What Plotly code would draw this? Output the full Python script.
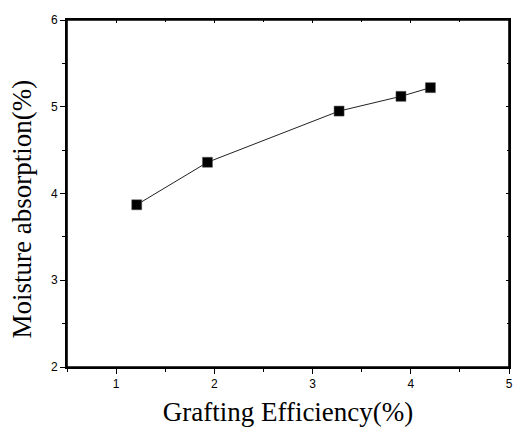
import plotly.graph_objects as go

grafting_efficiency = [1.21, 1.93, 3.27, 3.90, 4.20]
moisture_absorption = [3.87, 4.36, 4.95, 5.12, 5.22]

x_ticks = [1, 2, 3, 4, 5]
y_ticks = [2, 3, 4, 5, 6]
x_range = [0.5, 5]
y_range = [2, 6]

fig = go.Figure()
fig.add_trace(go.Scatter(
    x=grafting_efficiency, y=moisture_absorption,
    mode="lines+markers",
    line=dict(color="#222222", width=1),
    marker=dict(symbol="square", size=10, color="black", line=dict(color="#555555", width=0.5)),
    showlegend=False,
))
# empty trace so the mirrored top/right tick axes are drawn
fig.add_trace(go.Scatter(x=[None], y=[None], xaxis="x2", yaxis="y2",
                         mode="markers", showlegend=False, hoverinfo="skip"))

tickfont = dict(family="Liberation Sans, Arial", size=12, color="black")
axis_common = dict(
    showline=True, linecolor="black", linewidth=1.6, mirror=True,
    ticks="outside", ticklen=5, tickwidth=1.2, tickcolor="black",
    showgrid=False, zeroline=False, tickfont=tickfont,
    ticklabeloverflow="allow",
    minor=dict(ticks="outside", ticklen=3, tickwidth=1, tickcolor="black", dtick=0.5, showgrid=False),
)
mirror_common = dict(
    showline=True, linecolor="black", linewidth=1.6,
    ticks="inside", ticklen=3, tickwidth=1, tickcolor="black",
    showgrid=False, zeroline=False, showticklabels=False,
    minor=dict(ticks="inside", ticklen=2, tickwidth=1, tickcolor="black", dtick=0.5, showgrid=False),
)

fig.update_layout(
    xaxis=dict(
        range=x_range, tickvals=x_ticks, ticktext=[str(v) for v in x_ticks],
        title=dict(text="Grafting Efficiency(%)", font=dict(family="Liberation Serif, Times New Roman", size=27, color="black"), standoff=12),
        **axis_common,
    ),
    yaxis=dict(
        range=y_range, tickvals=y_ticks, ticktext=[str(v) for v in y_ticks],
        **axis_common,
    ),
    xaxis2=dict(range=x_range, overlaying="x", side="top", anchor="y", tickvals=x_ticks, **mirror_common),
    yaxis2=dict(range=y_range, overlaying="y", side="right", anchor="x", tickvals=y_ticks, **mirror_common),
    shapes=[dict(type="rect", xref="paper", yref="paper", x0=0, x1=1, y0=0, y1=1,
                 line=dict(color="black", width=1.6), fillcolor="rgba(0,0,0,0)", layer="above")],
    annotations=[dict(
        text="Moisture absorption(%)", textangle=-90,
        xref="paper", yref="paper", x=-0.101, y=0.455,
        xanchor="center", yanchor="middle", showarrow=False,
        font=dict(family="Liberation Serif, Times New Roman", size=27, color="black"),
    )],
    width=514, height=430,
    margin=dict(l=67, r=1, t=20, b=63),
    plot_bgcolor="white", paper_bgcolor="white",
)

fig.write_html("out.html")
